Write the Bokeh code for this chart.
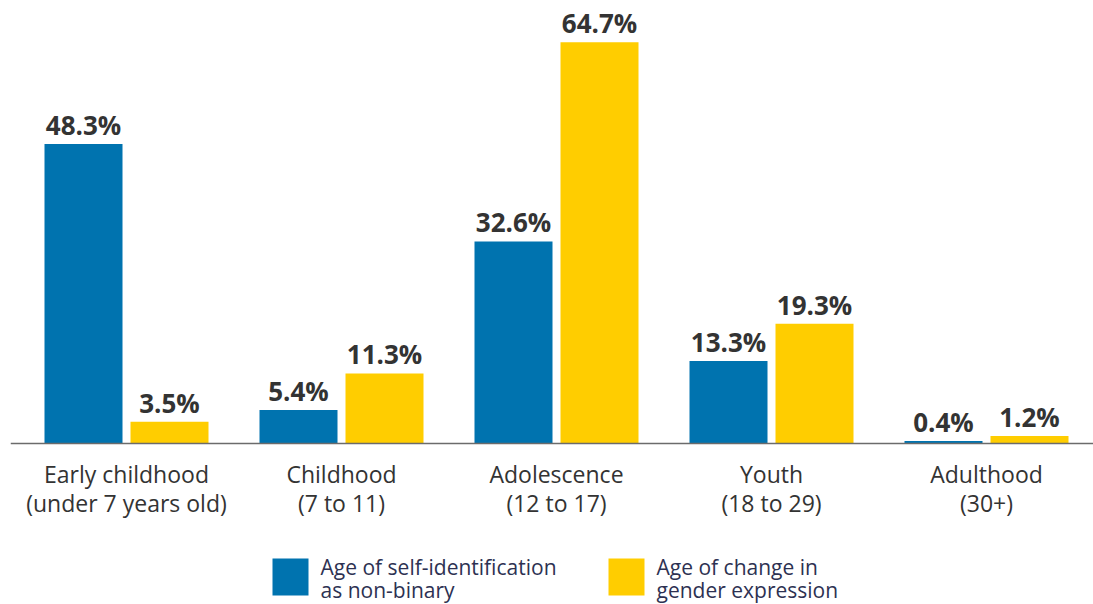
from bokeh.plotting import figure
from bokeh.models import Range1d, Span, ColumnDataSource
from bokeh.core.properties import value
from bokeh.embed import file_html
from bokeh.resources import INLINE

# ---------------- data ----------------
categories = ["Early childhood\n(under 7 years old)", "Childhood\n(7 to 11)",
              "Adolescence\n(12 to 17)", "Youth\n(18 to 29)", "Adulthood\n(30+)"]
self_identification = [48.3, 5.4, 32.6, 13.3, 0.4]
gender_expression = [3.5, 11.3, 64.7, 19.3, 1.2]
series_names = ["Age of self-identification\nas non-binary",
                "Age of change in\ngender expression"]

# ---------------- style / layout ----------------
BLUE = "#0073AF"
YELLOW = "#FFCD00"
TEXT = "#333333"
LEGEND_TEXT = "#2D3152"
FONT = value("Open Sans")

W, H = 1093, 604
LEFT_BORDER = 10
FRAME_W = W - LEFT_BORDER
GROUP_PX = 215.0
FIRST_CENTER_PX = 116.0      # from frame left
BASE_PX = 443.0              # baseline distance from frame top
PX_PER_PCT = 6.2
BAR_W = 78.0 / GROUP_PX
OFFSET = 43.0 / GROUP_PX
BASELINE_FIX = 9             # renderer draws alphabetic baseline a bit low

x_start = -FIRST_CENTER_PX / GROUP_PX
x_end = x_start + FRAME_W / GROUP_PX
y_end = BASE_PX / PX_PER_PCT
y_start = y_end - H / PX_PER_PCT


def fx(px):  # image x pixel -> data x
    return (px - LEFT_BORDER - FIRST_CENTER_PX) / GROUP_PX


def fy(py):  # image y pixel -> data y
    return (BASE_PX - py) / PX_PER_PCT


p = figure(width=W, height=H, output_backend="svg", toolbar_location=None,
           x_range=Range1d(x_start, x_end), y_range=Range1d(y_start, y_end),
           min_border_left=LEFT_BORDER, min_border_right=0,
           min_border_top=0, min_border_bottom=0)
p.axis.visible = False
p.grid.visible = False
p.outline_line_color = None
p.background_fill_color = "white"
p.border_fill_color = "white"

idx = list(range(len(categories)))
series = [self_identification, gender_expression]
colors = [BLUE, YELLOW]
offsets = [-OFFSET, OFFSET]

for vals, col, off in zip(series, colors, offsets):
    src = ColumnDataSource(dict(
        x=[i + off for i in idx],
        top=vals,
        label=[f"{v:.1f}%" for v in vals],
    ))
    p.vbar(x="x", top="top", bottom=0, width=BAR_W, source=src,
           fill_color=col, line_color=None)
    p.text(x="x", y="top", text="label", source=src,
           text_font=FONT, text_font_style="bold", text_font_size="26px",
           text_color=TEXT, text_align="center", text_baseline="alphabetic",
           y_offset=-19)

p.add_layout(Span(location=0, dimension="width", line_color="#6b6b6b",
                  line_width=1.5))

# category labels (two lines)
line1 = [c.split("\n")[0] for c in categories]
line2 = [c.split("\n")[1] for c in categories]
p.text(x=idx, y=[fy(482 - BASELINE_FIX)] * len(idx), text=line1, text_font=FONT,
       text_font_size="23px", text_color=TEXT, text_align="center",
       text_baseline="alphabetic")
p.text(x=idx, y=[fy(511 - BASELINE_FIX)] * len(idx), text=line2, text_font=FONT,
       text_font_size="23px", text_color=TEXT, text_align="center",
       text_baseline="alphabetic")

# legend (drawn manually)
sq_x = [290, 626]
txt_x = [320, 656]
for name, col, sx, tx in zip(series_names, colors, sq_x, txt_x):
    p.rect(x=[fx(sx)], y=[fy(576.5)], width=36, height=37,
           width_units="screen", height_units="screen",
           fill_color=col, line_color=None)
    l1, l2 = name.split("\n")
    p.text(x=[fx(tx)], y=[fy(575 - BASELINE_FIX)], text=[l1], text_font=FONT,
           text_font_size="21px", text_color=LEGEND_TEXT,
           text_align="left", text_baseline="alphabetic")
    p.text(x=[fx(tx)], y=[fy(598 - BASELINE_FIX)], text=[l2], text_font=FONT,
           text_font_size="21px", text_color=LEGEND_TEXT,
           text_align="left", text_baseline="alphabetic")

open("out.html", "w").write(file_html(p, INLINE))
